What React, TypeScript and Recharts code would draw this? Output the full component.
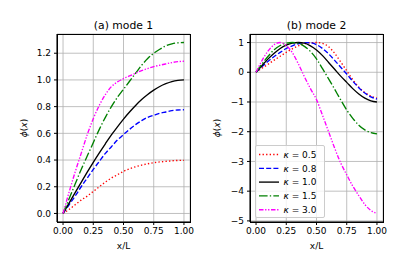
import React from "react";
import { LineChart, Line, XAxis, YAxis, CartesianGrid, Legend } from "recharts";

// x positions (x/L) shared by every curve
const xs = [0, 0.05, 0.1, 0.15, 0.2, 0.25, 0.3, 0.35, 0.4, 0.45, 0.5, 0.55, 0.6, 0.65, 0.7, 0.75, 0.8, 0.85, 0.9, 0.95, 1.0];

// (a) mode 1
const m1k05 = [0, 0.03, 0.065, 0.1, 0.13, 0.165, 0.2, 0.235, 0.265, 0.29, 0.315, 0.335, 0.35, 0.362, 0.372, 0.38, 0.386, 0.39, 0.394, 0.397, 0.398];
const m1k08 = [0, 0.065, 0.13, 0.2, 0.265, 0.33, 0.39, 0.45, 0.5, 0.55, 0.59, 0.63, 0.665, 0.695, 0.72, 0.735, 0.75, 0.76, 0.77, 0.775, 0.777];
const m1k10 = [0, 0.078, 0.156, 0.233, 0.309, 0.383, 0.454, 0.522, 0.588, 0.649, 0.707, 0.76, 0.809, 0.853, 0.891, 0.924, 0.951, 0.972, 0.988, 0.997, 1.0];
const m1k15 = [0, 0.11, 0.22, 0.33, 0.43, 0.53, 0.63, 0.72, 0.8, 0.87, 0.93, 0.99, 1.05, 1.11, 1.16, 1.2, 1.23, 1.255, 1.27, 1.278, 1.28];
const m1k30 = [0, 0.16, 0.31, 0.45, 0.59, 0.71, 0.81, 0.89, 0.95, 0.985, 1.01, 1.03, 1.05, 1.07, 1.085, 1.1, 1.11, 1.12, 1.13, 1.137, 1.14];

// (b) mode 2
const m2k05 = [0, 0.14, 0.27, 0.41, 0.54, 0.67, 0.79, 0.89, 0.96, 0.995, 1.0, 0.97, 0.86, 0.64, 0.35, 0.05, -0.25, -0.5, -0.68, -0.8, -0.87];
const m2k08 = [0, 0.19, 0.37, 0.53, 0.67, 0.8, 0.89, 0.96, 0.995, 0.99, 0.93, 0.8, 0.62, 0.4, 0.17, -0.06, -0.3, -0.52, -0.7, -0.83, -0.9];
const m2k10 = [0, 0.23, 0.45, 0.64, 0.8, 0.91, 0.98, 1.0, 0.98, 0.89, 0.75, 0.56, 0.33, 0.1, -0.13, -0.34, -0.55, -0.73, -0.87, -0.96, -1.0];
const m2k15 = [0, 0.28, 0.54, 0.76, 0.9, 0.98, 1.0, 0.97, 0.87, 0.7, 0.45, 0.12, -0.22, -0.57, -0.93, -1.27, -1.55, -1.78, -1.94, -2.03, -2.07];
const m2k30 = [0, 0.4, 0.72, 0.93, 1.0, 0.9, 0.66, 0.28, -0.15, -0.55, -0.92, -1.45, -2.0, -2.55, -3.05, -3.45, -3.83, -4.15, -4.45, -4.65, -4.75];

const kappas = ["0.5", "0.8", "1.0", "1.5", "3.0"];
const xTicks = [0, 0.25, 0.5, 0.75, 1.0];
const y1Ticks = [0, 0.2, 0.4, 0.6, 0.8, 1.0, 1.2];
const y2Ticks = [-5, -4, -3, -2, -1, 0, 1];

const keys = ["k05", "k08", "k10", "k15", "k30"];
const colors = ["#ff0000", "#0000ff", "#000000", "#008000", "#ff00ff"];
const dashes = ["1.35 2.2", "5 2.2", undefined, "8.6 2.2 1.35 2.2", "4.5 1.6 1.35 1.6 1.35 1.6"];

const FONT = "'DejaVu Sans', sans-serif";

function rows(series: number[][]) {
  return xs.map((x, i) => {
    const r: any = { x };
    keys.forEach((k, j) => (r[k] = series[j][i]));
    return r;
  });
}

const data1 = rows([m1k05, m1k08, m1k10, m1k15, m1k30]);
const data2 = rows([m2k05, m2k08, m2k10, m2k15, m2k30]);

const fmtY2 = (v: number) => (v < 0 ? "\u2212" + Math.abs(v) : String(v));

function LegendBox() {
  return (
    <div style={{ width: 68, height: 71, background: "rgba(255,255,255,0.8)", border: "1px solid #cccccc", borderRadius: 2, fontFamily: FONT }}>
      <svg width={68} height={71}>
        {kappas.map((k, i) => {
          const y = 8.5 + i * 13.8;
          return (
            <g key={k}>
              <line x1={3} x2={23} y1={y} y2={y} stroke={colors[i]} strokeWidth={1.35} strokeDasharray={dashes[i]} />
              <text x={27.5} y={y + 3.2} fontSize={9} fill="#000" fontFamily={FONT}>
                <tspan fontStyle="italic">κ</tspan> = {k}
              </text>
            </g>
          );
        })}
      </svg>
    </div>
  );
}

function Panel(props: {
  left: number; width: number; mLeft: number; mRight: number;
  data: any[]; yDomain: number[]; yTicks: number[]; yFmt: (v: number) => string;
  title: string; legend?: boolean;
}) {
  const { left, width, mLeft, mRight, data, yDomain, yTicks, yFmt, title, legend } = props;
  const plotL = left + mLeft + 37;
  const plotR = left + width - mRight;
  const cx = (plotL + plotR) / 2;
  const tick = { fontSize: 9, fill: "#000", fontFamily: FONT };
  return (
    <>
      <div style={{ position: "absolute", left, top: 0 }}>
        <LineChart width={width} height={271} data={data} margin={{ top: 34, right: mRight, bottom: 25, left: mLeft }}>
          <CartesianGrid stroke="#b0b0b0" strokeWidth={0.8} />
          <XAxis type="number" dataKey="x" domain={[-0.05, 1.05]} ticks={xTicks} interval={0} allowDataOverflow
            tickFormatter={(v: number) => v.toFixed(2)} tick={tick} tickSize={3} tickMargin={3} height={24}
            axisLine={{ stroke: "#000" }} tickLine={{ stroke: "#000" }} />
          <YAxis type="number" domain={yDomain} ticks={yTicks} interval={0} allowDataOverflow
            tickFormatter={yFmt} tick={tick} tickSize={3} tickMargin={3} width={37}
            axisLine={{ stroke: "#000" }} tickLine={{ stroke: "#000" }} />
          {keys.map((k, i) => (
            <Line key={k} type="monotone" dataKey={k} stroke={colors[i]} strokeWidth={1.35}
              strokeDasharray={dashes[i]} dot={false} isAnimationActive={false} />
          ))}
          {legend && (
            <Legend layout="vertical" align="center" verticalAlign="middle"
              wrapperStyle={{ left: 55, top: 145, width: "auto" }} content={() => <LegendBox />} />
          )}
        </LineChart>
      </div>
      <div style={{ position: "absolute", left: plotL, top: 34, width: plotR - plotL - 1, height: 222 - 34 - 1, border: "1px solid #000", pointerEvents: "none" }} />
      <div style={{ position: "absolute", left: cx, top: 25, transform: "translate(-50%,-50%)", fontSize: 10.8, whiteSpace: "nowrap" }}>{title}</div>
      <div style={{ position: "absolute", left: cx, top: 246, transform: "translate(-50%,-50%)", fontSize: 9, whiteSpace: "nowrap" }}>x/L</div>
      <div style={{ position: "absolute", left: plotL - 33, top: 128, transform: "translate(-50%,-50%) rotate(-90deg)", fontSize: 9, whiteSpace: "nowrap" }}>
        <i>ϕ</i>(<i>x</i>)
      </div>
    </>
  );
}

export default function App() {
  return (
    <div style={{ position: "absolute", left: 0, top: 0, width: 407, height: 271, background: "#fff", fontFamily: FONT, color: "#000" }}>
      <Panel left={0} width={200} mLeft={20} mRight={10} data={data1} yDomain={[-0.064, 1.344]} yTicks={y1Ticks}
        yFmt={(v) => v.toFixed(1)} title="(a) mode 1" />
      <Panel left={200} width={207} mLeft={13} mRight={24} data={data2} yDomain={[-5.0375, 1.2875]} yTicks={y2Ticks}
        yFmt={fmtY2} title="(b) mode 2" legend />
    </div>
  );
}
